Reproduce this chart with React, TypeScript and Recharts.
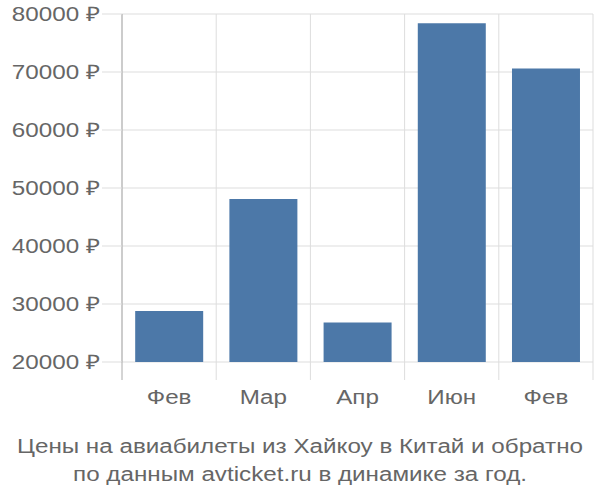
import { BarChart, Bar, XAxis, YAxis, CartesianGrid } from 'recharts'

const months = ['Фев', 'Мар', 'Апр', 'Июн', 'Фев']
const prices = [28800, 48100, 26800, 78400, 70600]
const yTicks = [20000, 30000, 40000, 50000, 60000, 70000, 80000]
const titleLines = [
  'Цены на авиабилеты из Хайкоу в Китай и обратно',
  'по данным avticket.ru в динамике за год.',
]

const data = months.map((month, i) => ({ month, price: prices[i] }))

const font = '"Liberation Sans", Arial, sans-serif'
const textColor = '#666'
const gridColor = '#ddd'
const axisColor = '#aaa'
const stretch = 1.21
const xTickLen = 18
const xTickMargin = 10

// the reference text is a little wider than plain Arial, so stretch it
function YTick({ x, y, payload }: any) {
  return (
    <text
      transform={`translate(${x},${y}) scale(${stretch},1)`}
      textAnchor="end"
      dy="0.355em"
      fill={textColor}
      fontSize={20}
      fontFamily={font}
    >
      {`${payload.value} ₽`}
    </text>
  )
}

// label plus short lines at the band edges, under the plot
function XTick({ x, y, payload, index, visibleTicksCount }: any) {
  const half = payload.offset ?? 0
  const top = y - xTickMargin - xTickLen
  const bottom = y - xTickMargin
  const last = index === (visibleTicksCount ?? months.length) - 1
  return (
    <g>
      <line x1={x - half} x2={x - half} y1={top} y2={bottom} stroke={index === 0 ? axisColor : gridColor} />
      {last && <line x1={x + half} x2={x + half} y1={top} y2={bottom} stroke={gridColor} />}
      <text
        transform={`translate(${x},${y}) scale(${stretch},1)`}
        textAnchor="middle"
        dy="0.71em"
        fill={textColor}
        fontSize={20}
        fontFamily={font}
      >
        {payload.value}
      </text>
    </g>
  )
}

export default function App() {
  return (
    <div style={{ position: 'absolute', left: 0, top: 0, width: 600, height: 500, fontFamily: font }}>
      <BarChart
        width={600}
        height={430}
        data={data}
        margin={{ top: 14, right: 7, left: 0, bottom: 0 }}
        barCategoryGap="14%"
      >
        <CartesianGrid
          stroke={gridColor}
          verticalCoordinatesGenerator={({ offset }: any) =>
            [0, 1, 2, 3, 4, 5].map((i) => offset.left + (i * offset.width) / months.length)
          }
        />
        <XAxis
          dataKey="month"
          tickLine={false}
          axisLine={false}
          tickSize={xTickLen}
          tickMargin={xTickMargin}
          tick={<XTick />}
          height={68}
        />
        <YAxis
          domain={[20000, 80000]}
          ticks={yTicks}
          width={122}
          tickSize={20}
          tickMargin={2}
          tickLine={{ stroke: gridColor }}
          axisLine={{ stroke: axisColor }}
          tick={<YTick />}
        />
        <Bar dataKey="price" fill="#4c78a8" isAnimationActive={false} />
      </BarChart>
      <div
        style={{
          position: 'absolute',
          left: 0,
          top: 432,
          width: 600,
          textAlign: 'center',
          color: textColor,
          fontSize: 20,
          lineHeight: '28px',
          transform: `scaleX(${stretch})`,
        }}
      >
        {titleLines.map((line) => (
          <div key={line}>{line}</div>
        ))}
      </div>
    </div>
  )
}
